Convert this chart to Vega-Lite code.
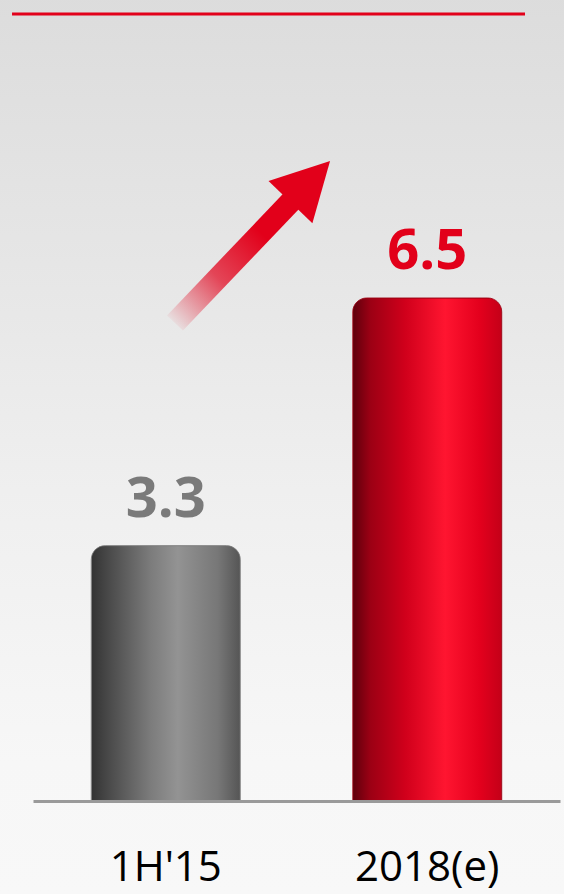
{
  "$schema": "https://vega.github.io/schema/vega-lite/v6.json",
  "width": 527,
  "height": 801,
  "autosize": {"type": "none"},
  "padding": {"left": 33, "right": 4, "top": 0, "bottom": 93},
  "background": "#f6f6f6",
  "config": {"view": {"stroke": null}, "font": "Open Sans"},
  "datasets": {
    "bars": [
      {"period": "1H'15", "value": 3.3},
      {"period": "2018(e)", "value": 6.5}
    ],
    "bg": [{"x0": -0.0627, "x1": 1.0076, "y0": 10.45, "y1": -1.25}],
    "topline": [{"x0": -0.0398, "x1": 0.9336, "y": 10.168}],
    "shaft": [{"x0": 0.2694, "y0": 6.176, "x1": 0.5028, "y1": 7.842}],
    "head": [{"x": 0.5261, "y": 8.004}]
  },
  "resolve": {"scale": {"x": "independent"}},
  "layer": [
    {
      "data": {"name": "bg"},
      "mark": {
        "type": "rect",
        "fill": {
          "gradient": "linear", "x1": 0, "y1": 0, "x2": 0, "y2": 1,
          "stops": [
            {"offset": 0, "color": "#dcdcdc"},
            {"offset": 0.3, "color": "#e6e6e6"},
            {"offset": 0.55, "color": "#efefef"},
            {"offset": 0.85, "color": "#f7f7f7"},
            {"offset": 1, "color": "#f8f8f8"}
          ]
        }
      },
      "encoding": {
        "x": {"field": "x0", "type": "quantitative", "scale": {"domain": [0, 1], "nice": false, "zero": false}, "axis": null},
        "x2": {"field": "x1"},
        "y": {"field": "y0", "type": "quantitative", "scale": {"domain": [0, 10.35], "nice": false}, "axis": null},
        "y2": {"field": "y1"}
      }
    },
    {
      "data": {"name": "topline"},
      "mark": {"type": "rule", "stroke": "#e2001a", "strokeWidth": 3},
      "encoding": {
        "x": {"field": "x0", "type": "quantitative", "scale": {"domain": [0, 1], "nice": false, "zero": false}, "axis": null},
        "x2": {"field": "x1"},
        "y": {"field": "y", "type": "quantitative", "scale": {"domain": [0, 10.35], "nice": false}, "axis": null}
      }
    },
    {
      "data": {"name": "shaft"},
      "mark": {
        "type": "rule",
        "strokeWidth": 22,
        "strokeCap": "butt",
        "stroke": {
          "gradient": "linear", "x1": 0, "y1": 1, "x2": 1, "y2": 0,
          "stops": [
            {"offset": 0, "color": "rgba(226,0,26,0.05)"},
            {"offset": 0.35, "color": "rgba(226,0,26,0.7)"},
            {"offset": 0.7, "color": "#e2001a"},
            {"offset": 1, "color": "#e2001a"}
          ]
        }
      },
      "encoding": {
        "x": {"field": "x0", "type": "quantitative", "scale": {"domain": [0, 1], "nice": false, "zero": false}, "axis": null},
        "x2": {"field": "x1"},
        "y": {"field": "y0", "type": "quantitative", "scale": {"domain": [0, 10.35], "nice": false}, "axis": null},
        "y2": {"field": "y1"}
      }
    },
    {
      "data": {"name": "head"},
      "mark": {
        "type": "point",
        "shape": "M0,-1L1.07,1L-1.07,1Z",
        "size": 3249,
        "angle": 44,
        "filled": true,
        "fill": "#e2001a",
        "opacity": 1,
        "strokeWidth": 0
      },
      "encoding": {
        "x": {"field": "x", "type": "quantitative", "scale": {"domain": [0, 1], "nice": false, "zero": false}, "axis": null},
        "y": {"field": "y", "type": "quantitative", "scale": {"domain": [0, 10.35], "nice": false}, "axis": null}
      }
    },
    {
      "data": {"name": "bars"},
      "encoding": {
        "x": {
          "field": "period",
          "type": "nominal",
          "sort": null,
          "scale": {"domain": ["1H'15", "2018(e)"], "paddingInner": 0.43, "paddingOuter": 0.2228},
          "axis": {
            "orient": "bottom",
            "zindex": 1,
            "title": null,
            "domain": true,
            "domainColor": "#9a9a9a",
            "domainWidth": 3,
            "ticks": false,
            "grid": false,
            "labelAngle": 0,
            "labelFontSize": 42,
            "labelColor": "#000000",
            "labelFont": "Open Sans",
            "labelBaseline": "alphabetic",
            "labelPadding": 79
          }
        },
        "y": {"field": "value", "type": "quantitative", "scale": {"domain": [0, 10.35], "nice": false}, "axis": null}
      },
      "layer": [
        {
          "transform": [{"filter": "datum.period === \"1H'15\""}],
          "mark": {
            "type": "bar",
            "cornerRadiusTopLeft": 14,
            "cornerRadiusTopRight": 14,
            "stroke": "#777777",
            "strokeWidth": 0.8,
            "fill": {
              "gradient": "linear", "x1": 0, "y1": 0, "x2": 1, "y2": 0,
              "stops": [
                {"offset": 0, "color": "#333333"},
                {"offset": 0.12, "color": "#4a4a4a"},
                {"offset": 0.4, "color": "#7c7c7c"},
                {"offset": 0.58, "color": "#939393"},
                {"offset": 0.85, "color": "#777777"},
                {"offset": 1, "color": "#555555"}
              ]
            }
          }
        },
        {
          "transform": [{"filter": "datum.period === '2018(e)'"}],
          "mark": {
            "type": "bar",
            "cornerRadiusTopLeft": 14,
            "cornerRadiusTopRight": 14,
            "stroke": "#9a0012",
            "strokeWidth": 0.8,
            "fill": {
              "gradient": "linear", "x1": 0, "y1": 0, "x2": 1, "y2": 0,
              "stops": [
                {"offset": 0, "color": "#5e000c"},
                {"offset": 0.12, "color": "#9c0014"},
                {"offset": 0.35, "color": "#d0001b"},
                {"offset": 0.62, "color": "#ff1530"},
                {"offset": 0.85, "color": "#e4001d"},
                {"offset": 1, "color": "#c40018"}
              ]
            }
          }
        },
        {
          "mark": {
            "type": "text",
            "baseline": "alphabetic",
            "align": "center",
            "dy": -29,
            "fontSize": 56,
            "fontWeight": "bold",
            "font": "Open Sans"
          },
          "encoding": {
            "text": {"field": "value", "type": "quantitative", "format": ".1f"},
            "color": {
              "condition": {"test": "datum.period === '2018(e)'", "value": "#e2001a"},
              "value": "#7a7a7a"
            }
          }
        }
      ]
    }
  ]
}
